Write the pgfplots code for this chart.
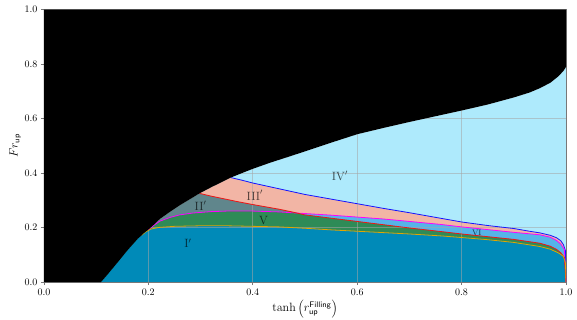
\documentclass[border=0pt]{standalone}
\usepackage{pgfplots}
\pgfplotsset{compat=1.18}
\definecolor{cIVp}{RGB}{174,234,252}
\definecolor{cIIIp}{RGB}{242,181,165}
\definecolor{cIIp}{RGB}{96,134,140}
\definecolor{cVI}{RGB}{86,180,233}
\definecolor{cV}{RGB}{46,139,87}
\definecolor{cIp}{RGB}{0,138,184}
\definecolor{lblue}{RGB}{20,20,255}
\definecolor{lmag}{RGB}{255,0,255}
\definecolor{lred}{RGB}{240,20,20}
\definecolor{lorange}{RGB}{225,165,0}
\definecolor{axgray}{RGB}{120,120,120}
\pgfplotsset{
  layers/mylayers/.define layer set={axis background,pre main,axis grid,main,axis ticks,axis lines,axis tick labels,axis descriptions,axis foreground}{},
}
\begin{document}
\begin{tikzpicture}
\begin{axis}[
  name=ax,
  set layers=mylayers,
  scale only axis,
  width=522.1pt, height=272.5pt,
  xmin=0, xmax=1, ymin=0, ymax=1,
  xtick={0,0.2,0.4,0.6,0.8,1}, ytick={0,0.2,0.4,0.6,0.8,1},
  xticklabel style={/pgf/number format/.cd,fixed,fixed zerofill,precision=1},
  yticklabel style={/pgf/number format/.cd,fixed,fixed zerofill,precision=1},
  tick pos=left, tick align=outside, major tick length=3pt,
  tick style={axgray, line width=0.5pt},
  axis line style={axgray, line width=0.6pt},
  grid=major,
  major grid style={gray!70, opacity=0.55, line width=0.6pt},
  tick label style={font=\normalsize},
  label style={font=\large},
  xlabel={$\tanh\left(r_{\mathsf{up}}^{\mathsf{Filling}}\right)$},
  ylabel={$Fr_{\mathsf{up}}$},
  xlabel style={at={(axis description cs:0.5,-0.097)}, anchor=center},
  ylabel style={at={(axis description cs:-0.055,0.5)}, anchor=center},
]
% IV'
\addplot[on layer=pre main, fill=cIVp, draw=none] coordinates {
(0.109,0) (0.12,0.024) (0.14,0.07) (0.16,0.117) (0.18,0.16) (0.187,0.172) (0.19,0.178) (0.2,0.193) (0.21,0.21) (0.222,0.232) (0.242,0.259) (0.26,0.282) (0.28,0.305) (0.298,0.326) (0.32,0.348) (0.34,0.367) (0.358,0.384) (0.38,0.401) (0.4,0.416) (0.434,0.439) (0.46,0.455) (0.5,0.48) (0.55,0.512) (0.6,0.543) (0.65,0.566) (0.7,0.588) (0.75,0.609) (0.8,0.63) (0.85,0.652) (0.9,0.678) (0.93,0.696) (0.95,0.712) (0.97,0.732) (0.985,0.755) (0.995,0.775) (1,0.79)
} \closedcycle;
% III'
\addplot[on layer=pre main, fill=cIIIp, draw=none] coordinates {
(0.109,0) (0.12,0.024) (0.14,0.07) (0.16,0.117) (0.18,0.16) (0.187,0.172) (0.19,0.178) (0.2,0.193) (0.21,0.21) (0.222,0.232) (0.242,0.259) (0.26,0.282) (0.28,0.305) (0.298,0.326) (0.32,0.348) (0.34,0.367) (0.358,0.384)
(0.38,0.374) (0.4,0.364) (0.45,0.343) (0.5,0.322) (0.55,0.305) (0.6,0.288) (0.65,0.271) (0.7,0.255) (0.75,0.238) (0.8,0.221) (0.85,0.208) (0.9,0.197) (0.93,0.187) (0.95,0.181) (0.97,0.172) (0.982,0.163) (0.99,0.152) (0.995,0.138) (0.999,0.115) (1,0)
} \closedcycle;
% II'
\addplot[on layer=pre main, fill=cIIp, draw=none] coordinates {
(0.109,0) (0.12,0.024) (0.14,0.07) (0.16,0.117) (0.18,0.16) (0.187,0.172) (0.19,0.178) (0.2,0.193) (0.21,0.21) (0.222,0.232) (0.242,0.259) (0.26,0.282) (0.28,0.305) (0.298,0.326)
(0.32,0.316) (0.35,0.304) (0.37,0.296) (0.4,0.285) (0.45,0.268) (0.475,0.258) (0.5,0.247) (0.55,0.235) (0.6,0.223) (0.65,0.211) (0.7,0.199) (0.76,0.186) (0.8,0.177) (0.85,0.167) (0.9,0.157) (0.95,0.143) (0.97,0.132) (0.982,0.12) (0.99,0.108) (0.997,0.09) (1,0)
} \closedcycle;
% VI
\addplot[on layer=pre main, fill=cVI, draw=none] coordinates {
(0.109,0) (0.12,0.024) (0.14,0.07) (0.16,0.117) (0.18,0.16) (0.187,0.172) (0.19,0.178) (0.2,0.193)
(0.21,0.208) (0.222,0.224) (0.242,0.238) (0.26,0.247) (0.286,0.254) (0.32,0.259) (0.35,0.261) (0.4,0.261) (0.45,0.258) (0.5,0.252) (0.55,0.246) (0.6,0.239) (0.65,0.232) (0.7,0.223) (0.76,0.212) (0.8,0.203) (0.85,0.193) (0.9,0.183) (0.95,0.174) (0.97,0.165) (0.982,0.153) (0.99,0.14) (0.997,0.12) (1,0)
} \closedcycle;
% V
\addplot[on layer=pre main, fill=cV, draw=none] coordinates {
(0.109,0) (0.12,0.024) (0.14,0.07) (0.16,0.117) (0.18,0.16) (0.187,0.172) (0.19,0.178) (0.2,0.193)
(0.21,0.208) (0.222,0.224) (0.242,0.238) (0.26,0.247) (0.286,0.254) (0.32,0.259) (0.35,0.261) (0.4,0.261) (0.45,0.258) (0.47,0.256)
(0.475,0.258) (0.5,0.247) (0.55,0.235) (0.6,0.223) (0.65,0.211) (0.7,0.199) (0.76,0.186) (0.8,0.177) (0.85,0.167) (0.9,0.157) (0.95,0.143) (0.97,0.132) (0.982,0.12) (0.99,0.108) (0.997,0.09) (1,0)
} \closedcycle;
% I'
\addplot[on layer=pre main, fill=cIp, draw=none] coordinates {
(0.109,0) (0.12,0.024) (0.14,0.07) (0.16,0.117) (0.18,0.16) (0.187,0.172)
(0.195,0.185) (0.205,0.195) (0.22,0.201) (0.25,0.205) (0.3,0.207) (0.35,0.207) (0.4,0.205) (0.45,0.203) (0.5,0.198) (0.55,0.192) (0.6,0.187) (0.65,0.182) (0.7,0.177) (0.76,0.17) (0.8,0.164) (0.85,0.156) (0.9,0.146) (0.95,0.131) (0.97,0.121) (0.985,0.108) (0.995,0.095) (0.999,0.07) (1,0)
} \closedcycle;
% lines
\addplot[lblue, line width=0.8pt] coordinates {
(0.358,0.384) (0.38,0.374) (0.4,0.364) (0.45,0.343) (0.5,0.322) (0.55,0.305) (0.6,0.288) (0.65,0.271) (0.7,0.255) (0.75,0.238) (0.8,0.221) (0.85,0.208) (0.9,0.197) (0.93,0.187) (0.95,0.181) (0.97,0.172) (0.982,0.163) (0.99,0.152) (0.995,0.138) (0.999,0.115) (1,0)
};
\addplot[lmag, line width=0.8pt] coordinates {
(0.2,0.193) (0.21,0.208) (0.222,0.224) (0.242,0.238) (0.26,0.247) (0.286,0.254) (0.32,0.259) (0.35,0.261) (0.4,0.261) (0.45,0.258) (0.5,0.252) (0.55,0.246) (0.6,0.239) (0.65,0.232) (0.7,0.223) (0.76,0.212) (0.8,0.203) (0.85,0.193) (0.9,0.183) (0.95,0.174) (0.97,0.165) (0.982,0.153) (0.99,0.14) (0.997,0.12) (1,0)
};
\addplot[lred, line width=0.8pt] coordinates {
(0.298,0.326) (0.32,0.316) (0.35,0.304) (0.37,0.296) (0.4,0.285) (0.45,0.268) (0.475,0.258) (0.5,0.247) (0.55,0.235) (0.6,0.223) (0.65,0.211) (0.7,0.199) (0.76,0.186) (0.8,0.177) (0.85,0.167) (0.9,0.157) (0.95,0.143) (0.97,0.132) (0.982,0.12) (0.99,0.108) (0.997,0.09) (1,0)
};
\addplot[lorange, line width=0.8pt] coordinates {
(0.187,0.172) (0.195,0.185) (0.205,0.195) (0.22,0.201) (0.25,0.205) (0.3,0.207) (0.35,0.207) (0.4,0.205) (0.45,0.203) (0.5,0.198) (0.55,0.192) (0.6,0.187) (0.65,0.182) (0.7,0.177) (0.76,0.17) (0.8,0.164) (0.85,0.156) (0.9,0.146) (0.95,0.131) (0.97,0.121) (0.985,0.108) (0.995,0.095) (0.999,0.07) (1,0)
};
% black region
\addplot[fill=black, draw=none] coordinates {
(0,0) (0.109,0) (0.12,0.024) (0.14,0.07) (0.16,0.117) (0.18,0.16) (0.187,0.172) (0.19,0.178) (0.2,0.193) (0.21,0.21) (0.222,0.232) (0.242,0.259) (0.26,0.282) (0.28,0.305) (0.298,0.326) (0.32,0.348) (0.34,0.367) (0.358,0.384) (0.38,0.401) (0.4,0.416) (0.434,0.439) (0.46,0.455) (0.5,0.48) (0.55,0.512) (0.6,0.543) (0.65,0.566) (0.7,0.588) (0.75,0.609) (0.8,0.63) (0.85,0.652) (0.9,0.678) (0.93,0.696) (0.95,0.712) (0.97,0.732) (0.985,0.755) (0.995,0.775) (1,0.79) (1,1) (0,1)
} -- cycle;
% region labels
\node[font=\large, text=black, text opacity=0.7] at (axis cs:0.276,0.143) {$\mathrm{I}'$};
\node[font=\large, text=black, text opacity=0.7] at (axis cs:0.300,0.279) {$\mathrm{II}'$};
\node[font=\large, text=black, text opacity=0.7] at (axis cs:0.404,0.319) {$\mathrm{III}'$};
\node[font=\large, text=black, text opacity=0.7] at (axis cs:0.567,0.389) {$\mathrm{IV}'$};
\node[font=\large, text=black, text opacity=0.7] at (axis cs:0.421,0.228) {$\mathrm{V}$};
\node[font=\footnotesize, text=black, text opacity=0.7] at (axis cs:0.829,0.183) {$\mathrm{VI}$};
\end{axis}
\pgfresetboundingbox
\path[use as bounding box] ([shift={(-43.9pt,-36.8pt)}]ax.south west) rectangle ([shift={(11pt,9.7pt)}]ax.north east);
\end{tikzpicture}
\end{document}
